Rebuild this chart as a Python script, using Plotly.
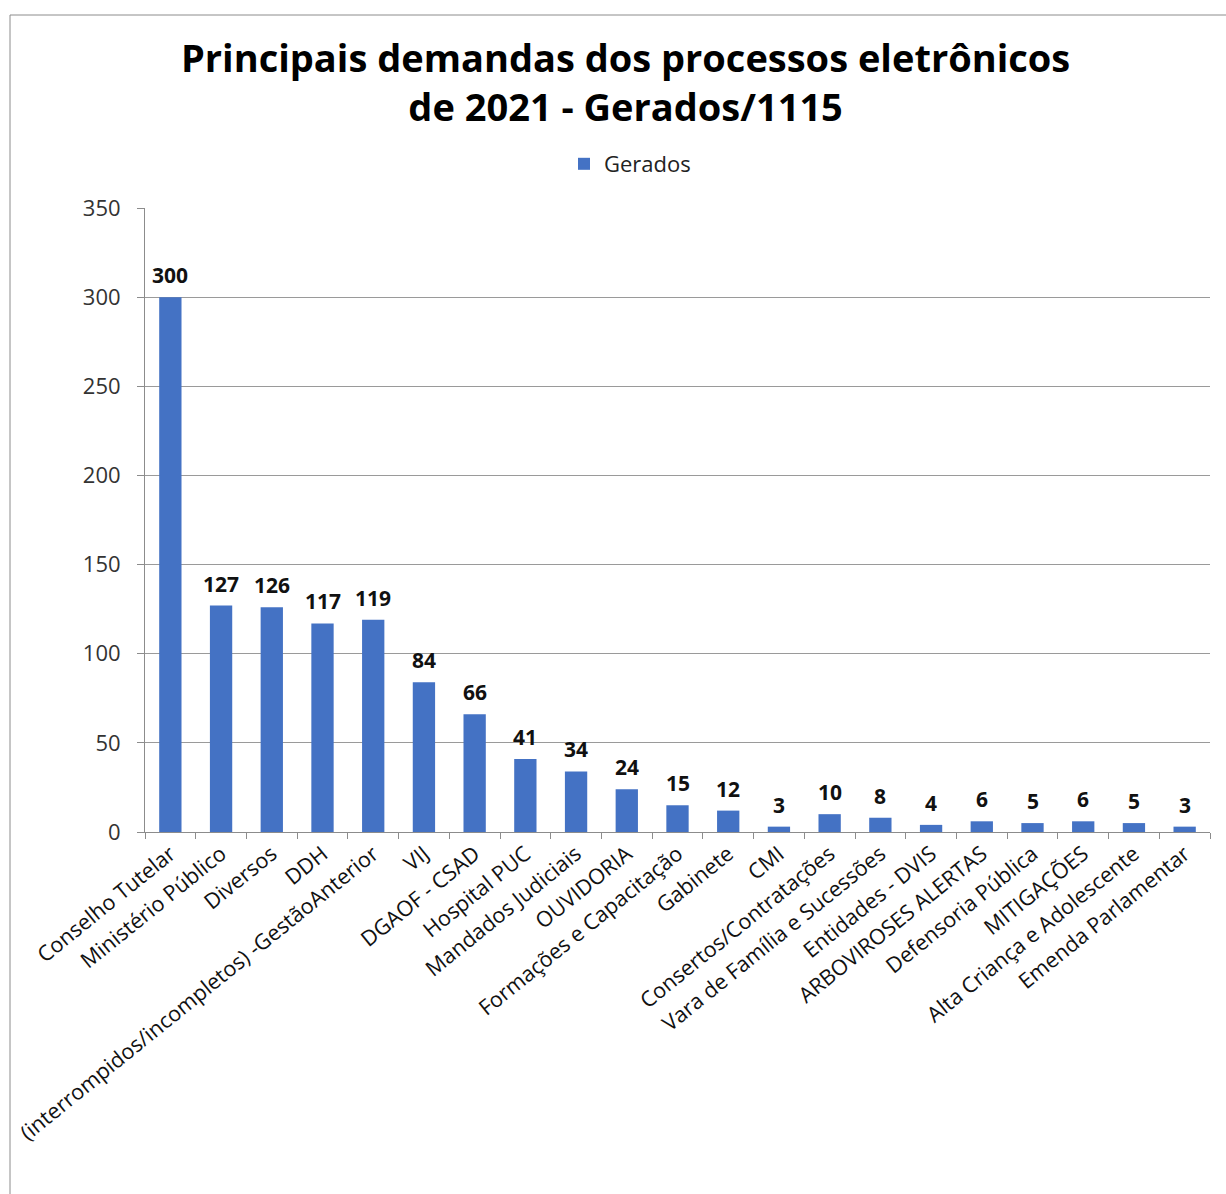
import plotly.graph_objects as go

# Demand categories of electronic processes generated in 2021
categories = [
    "Conselho Tutelar",
    "Ministério Público",
    "Diversos",
    "DDH",
    "(interrompidos/incompletos) -GestãoAnterior",
    "VIJ",
    "DGAOF - CSAD",
    "Hospital PUC",
    "Mandados Judiciais",
    "OUVIDORIA",
    "Formações e Capacitação",
    "Gabinete",
    "CMI",
    "Consertos/Contratações",
    "Vara de Família e Sucessões",
    "Entidades - DVIS",
    "ARBOVIROSES ALERTAS",
    "Defensoria Pública",
    "MITIGAÇÕES",
    "Alta Criança e Adolescente",
    "Emenda Parlamentar",
]
gerados = [300, 127, 126, 117, 119, 84, 66, 41, 34, 24, 15, 12, 3, 10, 8, 4, 6, 5, 6, 5, 3]
y_ticks = [0, 50, 100, 150, 200, 250, 300, 350]
chart_title = "Principais demandas dos processos eletrônicos<br>de 2021 - Gerados/1115"

W, H = 1226, 1194
L, R, T, B = 145, 16, 208, 362
pw, ph = W - L - R, H - T - B


def px_x(px):
    return (px - L) / pw


def px_y(py):
    return (H - B - py) / ph


fig = go.Figure()
fig.add_trace(go.Bar(
    x=categories,
    y=gerados,
    name="Gerados",
    marker=dict(color="#4472C4", line=dict(width=0)),
    hoverinfo="x+y",
))

# value labels above each bar
value_labels = [
    dict(
        x=c, y=v, xref="x", yref="y",
        text=f"<b>{v}</b>",
        showarrow=False,
        yanchor="bottom",
        yshift=6,
        font=dict(family="Open Sans", size=21, color="#111111"),
    )
    for c, v in zip(categories, gerados)
]

title_annotation = dict(
    text=f"<b>{chart_title}</b>",
    xref="paper", yref="paper",
    x=px_x(625), y=px_y(81),
    xanchor="center", yanchor="middle",
    showarrow=False,
    font=dict(family="Open Sans", size=38, color="#000000"),
)

fig.update_layout(
    width=W,
    height=H,
    margin=dict(l=L, r=R, t=T, b=B),
    paper_bgcolor="white",
    plot_bgcolor="white",
    bargap=0.56,
    font=dict(family="Open Sans", size=21, color="#222222"),
    annotations=[title_annotation] + value_labels,
    showlegend=True,
    legend=dict(
        orientation="h",
        x=px_x(630),
        xanchor="center",
        y=px_y(164),
        yanchor="middle",
        font=dict(family="Open Sans", size=22, color="#222222"),
        itemwidth=30,
    ),
    xaxis=dict(
        type="category",
        tickangle=-39,
        tickfont=dict(family="Open Sans", size=21.5, color="#111111"),
        showline=True,
        linecolor="#8c8c8c",
        linewidth=1,
        ticks="outside",
        tickson="boundaries",
        ticklen=6,
        tickcolor="#8c8c8c",
        showgrid=False,
        automargin=False,
    ),
    yaxis=dict(
        range=[0, 350],
        tickvals=y_ticks,
        ticktext=[str(v) for v in y_ticks],
        tickfont=dict(family="Open Sans", size=22, color="#333333"),
        ticklabelstandoff=12,
        showgrid=True,
        gridcolor="#9a9a9a",
        gridwidth=1,
        showline=True,
        linecolor="#8c8c8c",
        linewidth=1,
        ticks="outside",
        ticklen=7,
        tickcolor="#8c8c8c",
        zeroline=False,
        automargin=False,
    ),
    shapes=[
        dict(
            type="rect",
            xref="paper",
            yref="paper",
            x0=px_x(10),
            x1=px_x(1240),
            y0=px_y(1210),
            y1=px_y(15),
            line=dict(color="#8c8c8c", width=1),
            fillcolor="rgba(0,0,0,0)",
            layer="below",
        )
    ],
)

fig.write_html("out.html")
